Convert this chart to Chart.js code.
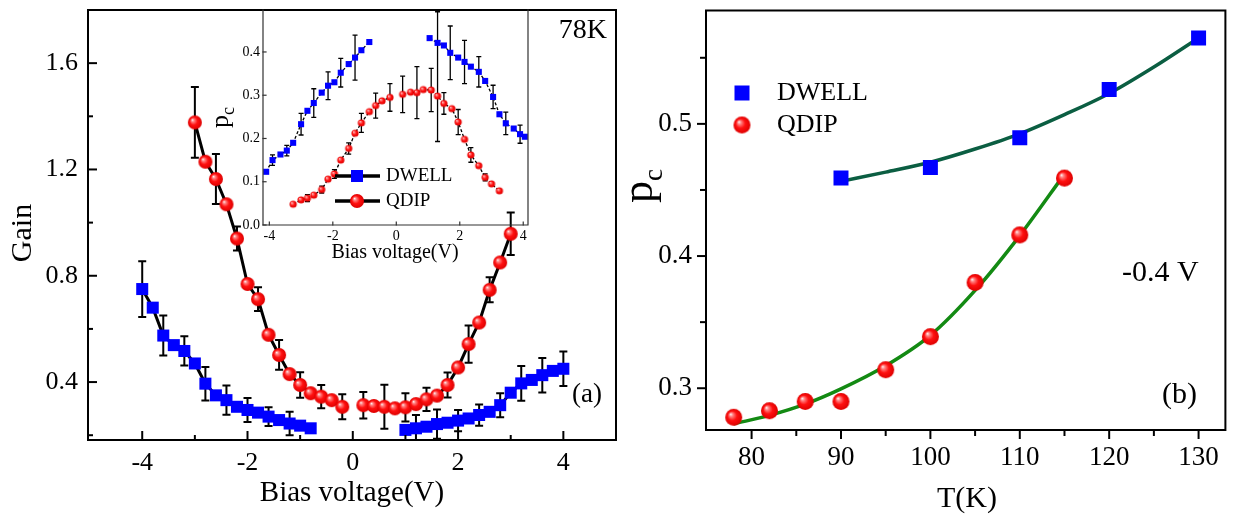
<!DOCTYPE html>
<html>
<head>
<meta charset="utf-8">
<title>DWELL vs QDIP: gain and p_c</title>
<script src="https://cdn.jsdelivr.net/npm/chart.js@4"></script>
<style>
  body { margin: 0; background: #fff; font-family: "Liberation Serif", serif; }
  #wrap { position: relative; width: 1236px; height: 514px; overflow: hidden; }
  #wrap canvas { position: absolute; top: 0; }
</style>
</head>
<body>
<div id="wrap">
  <canvas id="gainChart" width="630" height="514" style="left:0"></canvas>
  <canvas id="pcChart" width="606" height="514" style="left:630px"></canvas>
  <canvas id="insetChart" width="340" height="270" style="left:200px"></canvas>
</div>
<script>
// ---- (a) gain vs bias voltage, 78K ----
const dwellBias = [-4.0, -3.8, -3.6, -3.4, -3.2, -3.0, -2.8, -2.6, -2.4, -2.2, -2.0, -1.8, -1.6, -1.4, -1.2, -1.0, -0.8,
  1.0, 1.2, 1.4, 1.6, 1.8, 2.0, 2.2, 2.4, 2.6, 2.8, 3.0, 3.2, 3.4, 3.6, 3.8, 4.0];
const dwellGain = [0.75, 0.68, 0.575, 0.539, 0.517, 0.47, 0.394, 0.35, 0.332, 0.307, 0.295, 0.285, 0.27, 0.257, 0.244, 0.236, 0.226,
  0.22, 0.226, 0.232, 0.242, 0.247, 0.255, 0.263, 0.276, 0.288, 0.313, 0.36, 0.395, 0.408, 0.426, 0.442, 0.45];
const dwellGainErr = [0.105, 0, 0.075, 0, 0.055, 0, 0.063, 0, 0.055, 0, 0.045, 0, 0.035, 0, 0.044, 0, 0,
  0, 0.05, 0, 0.055, 0, 0.04, 0, 0.04, 0, 0.045, 0, 0.065, 0, 0.065, 0, 0.065];

const qdipBias = [-3.0, -2.8, -2.6, -2.4, -2.2, -2.0, -1.8, -1.6, -1.4, -1.2, -1.0, -0.8, -0.6, -0.4, -0.2,
  0.2, 0.4, 0.6, 0.8, 1.0, 1.2, 1.4, 1.6, 1.8, 2.0, 2.2, 2.4, 2.6, 2.8, 3.0];
const qdipGain = [1.377, 1.229, 1.164, 1.069, 0.94, 0.769, 0.712, 0.578, 0.502, 0.43, 0.389, 0.358, 0.345, 0.332, 0.307,
  0.313, 0.31, 0.307, 0.301, 0.305, 0.317, 0.335, 0.349, 0.389, 0.455, 0.543, 0.624, 0.747, 0.85, 0.958];
const qdipGainErr = [0.133, 0, 0.094, 0, 0.045, 0, 0.045, 0, 0.056, 0, 0.048, 0, 0.044, 0, 0.047,
  0.05, 0, 0.083, 0, 0.053, 0, 0.044, 0, 0.047, 0, 0.07, 0, 0.047, 0, 0.08];

const biasTicks = [-4, -2, 0, 2, 4];
const biasMinor = [-3, -1, 1, 3];
const gainTicks = [0.4, 0.8, 1.2, 1.6];
const gainMinor = [0.2, 0.6, 1.0, 1.4];

// ---- inset: p_c vs bias voltage ----
const insetDwellBias = [-4.1, -3.9, -3.65, -3.45, -3.25, -3.0, -2.8, -2.6, -2.35, -2.15, -1.95, -1.75, -1.5, -1.3, -1.1, -0.85,
  1.05, 1.3, 1.5, 1.7, 1.95, 2.15, 2.35, 2.6, 2.8, 3.05, 3.25, 3.45, 3.7, 3.9, 4.05];
const insetDwellPc = [0.123, 0.15, 0.163, 0.172, 0.19, 0.233, 0.264, 0.282, 0.306, 0.322, 0.33, 0.352, 0.372, 0.387, 0.404, 0.423,
  0.432, 0.421, 0.415, 0.398, 0.387, 0.377, 0.366, 0.354, 0.333, 0.296, 0.256, 0.235, 0.223, 0.21, 0.204];
const insetDwellErr = [0, 0.012, 0, 0.012, 0, 0.025, 0, 0.033, 0, 0.032, 0, 0.033, 0, 0.052, 0, 0,
  0, [0.228, 0.072], 0, 0.062, 0, 0.05, 0, 0.035, 0, 0.027, 0, 0.026, 0, 0.021, 0];

const insetQdipBias = [-3.25, -3.0, -2.8, -2.6, -2.35, -2.15, -1.95, -1.75, -1.5, -1.3, -1.1, -0.85, -0.65, -0.45, -0.2,
  0.2, 0.45, 0.65, 0.85, 1.1, 1.3, 1.5, 1.75, 1.95, 2.15, 2.35, 2.6, 2.8, 3.0, 3.25];
const insetQdipPc = [0.048, 0.058, 0.062, 0.069, 0.082, 0.106, 0.118, 0.15, 0.177, 0.212, 0.236, 0.262, 0.276, 0.287, 0.295,
  0.302, 0.307, 0.306, 0.313, 0.312, 0.298, 0.281, 0.269, 0.238, 0.198, 0.162, 0.137, 0.11, 0.095, 0.079];
const insetQdipErr = [0, 0, 0.008, 0, 0.008, 0, 0.01, 0, 0.013, 0, 0.022, 0, 0.029, 0, 0.032,
  0.042, 0, 0.06, 0, 0.05, 0, 0.025, 0, 0.029, 0, 0.017, 0, 0.008, 0, 0];

const insetBiasTicks = [-4, -2, 0, 2, 4];
const insetPcTicks = [0, 0.1, 0.2, 0.3, 0.4];

// ---- (b) p_c vs temperature at -0.4 V ----
const tempDwell = [90, 100, 110, 120, 130];
const pcDwell = [0.459, 0.467, 0.4895, 0.526, 0.565];
const tempQdip = [78, 82, 86, 90, 95, 100, 105, 110, 115];
const pcQdip = [0.278, 0.283, 0.29, 0.29, 0.314, 0.339, 0.38, 0.416, 0.459];

// fitted curves
const fitDwellT = [90, 95, 100, 105, 110, 115, 120, 125, 130];
const fitDwellPc = [0.4565, 0.4635, 0.471, 0.481, 0.4925, 0.507, 0.523, 0.543, 0.565];
const fitQdipT = [78, 82, 86, 90, 95, 100, 105, 110, 115];
const fitQdipPc = [0.273, 0.2795, 0.288, 0.2995, 0.317, 0.34, 0.374, 0.4155, 0.462];

const tempTicks = [80, 90, 100, 110, 120, 130];
const tempMinor = [85, 95, 105, 115, 125];
const pcTicks = [0.3, 0.4, 0.5];
const pcMinor = [0.35, 0.45, 0.55];

const SERIF = '"Liberation Serif", serif';
const BLUE = '#0000ff';
Chart.defaults.font.family = SERIF;
Chart.defaults.color = '#000';
Chart.defaults.animation = false;
Chart.defaults.plugins.legend.display = false;
Chart.defaults.plugins.tooltip.enabled = false;

// shaded red ball used as point marker
function sphere(r) {
  const c = document.createElement('canvas');
  const s = Math.ceil(2 * r) + 2;
  c.width = c.height = s;
  const g = c.getContext('2d');
  const m = s / 2;
  const grad = g.createRadialGradient(m - 0.38 * r, m - 0.38 * r, 0, m, m, r);
  grad.addColorStop(0, '#ffffff');
  grad.addColorStop(0.22, '#ff8080');
  grad.addColorStop(0.55, '#ff1010');
  grad.addColorStop(1, '#dd0000');
  g.fillStyle = grad;
  g.beginPath();
  g.arc(m, m, r, 0, Math.PI * 2);
  g.fill();
  return c;
}

const pts = (xs, ys) => xs.map((v, i) => ({ x: v, y: ys[i] }));
// hide the connecting segment across a break in the bias sweep
const gapAt = step => ctx => (ctx.p1.parsed.x - ctx.p0.parsed.x > step ? 'transparent' : undefined);

function axis(min, max, ticks, opts) {
  return {
    type: 'linear', min, max,
    afterBuildTicks: s => { s.ticks = ticks.map(v => ({ value: v })); },
    afterFit: s => {
      if (opts.height) s.height = opts.height;
      if (opts.width) s.width = opts.width;
      // plot box is placed by layout padding only
      s.paddingTop = s.paddingBottom = s.paddingLeft = s.paddingRight = 0;
    },
    grid: { display: false, drawTicks: false },
    border: { display: false },
    ticks: {
      font: { size: opts.size, family: SERIF }, color: '#000', padding: opts.pad,
      autoSkip: false, maxRotation: 0,
      callback: opts.fmt || (v => String(v))
    }
  };
}

const errorBars = {
  id: 'errorBars',
  beforeDatasetsDraw(chart, args, o) {
    const { ctx, chartArea: a } = chart;
    ctx.save();
    ctx.beginPath();
    ctx.rect(a.left, a.top, a.width, a.height);
    ctx.clip();
    ctx.strokeStyle = '#000';
    ctx.lineWidth = o.width;
    chart.data.datasets.forEach((ds, i) => {
      if (!ds.errors) return;
      const meta = chart.getDatasetMeta(i);
      const ys = chart.scales[meta.yAxisID];
      meta.data.forEach((pt, j) => {
        const e = ds.errors[j];
        if (!e) return;
        const [lo, hi] = Array.isArray(e) ? e : [e, e];
        const v = ds.data[j].y;
        const top = ys.getPixelForValue(v + hi);
        const bot = ys.getPixelForValue(v - lo);
        ctx.beginPath();
        ctx.moveTo(pt.x, top); ctx.lineTo(pt.x, bot);
        ctx.moveTo(pt.x - o.cap, top); ctx.lineTo(pt.x + o.cap, top);
        ctx.moveTo(pt.x - o.cap, bot); ctx.lineTo(pt.x + o.cap, bot);
        ctx.stroke();
      });
    });
    ctx.restore();
  }
};

// box around the plot plus major/minor tick marks
const frame = {
  id: 'frame',
  afterDatasetsDraw(chart, args, o) {
    const { ctx, chartArea: a, scales: { x, y } } = chart;
    ctx.save();
    ctx.strokeStyle = o.color;
    ctx.lineWidth = o.width;
    ctx.lineCap = 'square';
    const dir = o.inward ? -1 : 1;
    const xMark = (list, len) => list.forEach(v => {
      const px = x.getPixelForValue(v);
      ctx.beginPath(); ctx.moveTo(px, a.bottom); ctx.lineTo(px, a.bottom + dir * len); ctx.stroke();
    });
    const yMark = (list, len) => list.forEach(v => {
      const py = y.getPixelForValue(v);
      ctx.beginPath(); ctx.moveTo(a.left, py); ctx.lineTo(a.left - dir * len, py); ctx.stroke();
    });
    xMark(o.xMajor || [], o.major);
    xMark(o.xMinor || [], o.minor);
    yMark(o.yMajor || [], o.major);
    yMark(o.yMinor || [], o.minor);
    ctx.beginPath();
    const sides = o.sides;
    if (sides.includes('left')) { ctx.moveTo(a.left, a.top); ctx.lineTo(a.left, a.bottom); }
    if (sides.includes('bottom')) { ctx.moveTo(a.left, a.bottom); ctx.lineTo(a.right, a.bottom); }
    if (sides.includes('top')) { ctx.moveTo(a.left, a.top); ctx.lineTo(a.right, a.top); }
    if (sides.includes('right')) { ctx.moveTo(a.right, a.top); ctx.lineTo(a.right, a.bottom); }
    ctx.stroke();
    ctx.restore();
  }
};

// axis titles, labels and hand-placed legends
const notes = {
  id: 'notes',
  afterDraw(chart, args, o) {
    const ctx = chart.ctx;
    ctx.save();
    ctx.fillStyle = '#000';
    (o.items || []).forEach(t => {
      ctx.save();
      ctx.translate(t.x, t.y);
      if (t.rotate) ctx.rotate(t.rotate);
      ctx.font = `${t.size}px ${SERIF}`;
      if (t.sub) {
        // main letter + lowered subscript, anchored at the baseline
        ctx.textAlign = 'left';
        ctx.textBaseline = 'alphabetic';
        ctx.fillText(t.text, 0, 0);
        const w = ctx.measureText(t.text).width;
        ctx.font = `${t.subSize}px ${SERIF}`;
        ctx.fillText(t.sub, w, t.drop);
      } else {
        ctx.textAlign = t.align || 'center';
        ctx.textBaseline = 'middle';
        ctx.fillText(t.text, 0, 0);
      }
      ctx.restore();
    });
    (o.keys || []).forEach(k => {
      if (k.line) {
        ctx.strokeStyle = '#000';
        ctx.lineWidth = k.lineWidth;
        ctx.beginPath(); ctx.moveTo(k.line[0], k.y); ctx.lineTo(k.line[1], k.y); ctx.stroke();
      }
      if (k.kind === 'square') {
        ctx.fillStyle = BLUE;
        ctx.fillRect(k.x - k.size / 2, k.y - k.size / 2, k.size, k.size);
      } else {
        const img = sphere(k.size / 2);
        ctx.drawImage(img, k.x - img.width / 2, k.y - img.height / 2);
      }
      ctx.fillStyle = '#000';
      ctx.font = `${k.font}px ${SERIF}`;
      ctx.textAlign = 'left';
      ctx.textBaseline = 'middle';
      ctx.fillText(k.label, k.tx, k.y);
    });
    ctx.restore();
  }
};

function drawCharts() {
  // ---- panel (a) ----
  new Chart(document.getElementById('gainChart'), {
    type: 'line',
    data: {
      datasets: [
        {
          label: 'QDIP',
          data: pts(qdipBias, qdipGain),
          errors: qdipGainErr,
          borderColor: '#000', borderWidth: 3,
          pointStyle: sphere(7), pointRadius: 7,
          segment: { borderColor: gapAt(0.3) }
        },
        {
          label: 'DWELL',
          data: pts(dwellBias, dwellGain),
          errors: dwellGainErr,
          borderColor: '#000', borderWidth: 3,
          pointStyle: 'rect', pointRadius: 8.5,
          pointBackgroundColor: BLUE, pointBorderColor: BLUE, pointBorderWidth: 0,
          segment: { borderColor: gapAt(0.5) }
        }
      ]
    },
    options: {
      responsive: false,
      layout: { padding: { top: 10, right: 14, left: 0, bottom: 0 } },
      scales: {
        x: axis(-5.03, 5.0, biasTicks, { size: 26, pad: 8, height: 74 }),
        y: axis(0.182, 1.8, gainTicks, { size: 26, pad: 10, width: 88, fmt: v => v.toFixed(1) })
      },
      plugins: {
        errorBars: { width: 2, cap: 4 },
        frame: {
          color: '#000', width: 2, inward: true, major: 8, minor: 4,
          xMajor: biasTicks, xMinor: biasMinor, yMajor: gainTicks, yMinor: gainMinor,
          sides: ['left', 'bottom', 'top', 'right']
        },
        notes: {
          items: [
            { text: 'Gain', x: 23, y: 233, size: 30, rotate: -Math.PI / 2 },
            { text: 'Bias voltage(V)', x: 352, y: 493, size: 29 },
            { text: '78K', x: 607, y: 31, size: 28, align: 'right' },
            { text: '(a)', x: 572, y: 395, size: 27, align: 'left' }
          ]
        }
      }
    },
    plugins: [errorBars, frame, notes]
  });

  // ---- inset ----
  new Chart(document.getElementById('insetChart'), {
    type: 'line',
    data: {
      datasets: [
        {
          label: 'DWELL',
          data: pts(insetDwellBias, insetDwellPc),
          errors: insetDwellErr,
          borderColor: '#000', borderWidth: 1.3, borderDash: [3, 2],
          pointStyle: 'rect', pointRadius: 4.3,
          pointBackgroundColor: BLUE, pointBorderColor: BLUE, pointBorderWidth: 0,
          segment: { borderColor: gapAt(0.5) }
        },
        {
          label: 'QDIP',
          data: pts(insetQdipBias, insetQdipPc),
          errors: insetQdipErr,
          borderColor: '#000', borderWidth: 1.3, borderDash: [3, 2],
          pointStyle: sphere(3.6), pointRadius: 3.6,
          segment: { borderColor: gapAt(0.3) }
        }
      ]
    },
    options: {
      responsive: false,
      layout: { padding: { top: 10, right: 12, left: 0, bottom: 0 } },
      scales: {
        x: axis(-4.2, 4.15, insetBiasTicks, { size: 14, pad: 3, height: 45 }),
        y: axis(0, 0.497, insetPcTicks, { size: 14, pad: 3, width: 63, fmt: v => v.toFixed(1) })
      },
      plugins: {
        errorBars: { width: 1.3, cap: 2.5 },
        frame: {
          color: '#333', width: 1.2, inward: true, major: 3, minor: 2,
          xMajor: insetBiasTicks, yMajor: insetPcTicks,
          sides: ['left', 'bottom', 'right']
        },
        notes: {
          items: [
            { text: 'p', sub: 'c', x: 28, y: 128, size: 26, subSize: 18, drop: 6, rotate: -Math.PI / 2 },
            { text: 'Bias voltage(V)', x: 195, y: 253, size: 20 }
          ],
          keys: [
            { kind: 'square', x: 157, y: 176, size: 12, line: [135, 180], lineWidth: 3.5, label: 'DWELL', tx: 186, font: 19 },
            { kind: 'ball', x: 157, y: 201, size: 14, line: [135, 180], lineWidth: 3.5, label: 'QDIP', tx: 186, font: 19 }
          ]
        }
      }
    },
    plugins: [errorBars, frame, notes]
  });

  // ---- panel (b) ----
  new Chart(document.getElementById('pcChart'), {
    type: 'line',
    data: {
      datasets: [
        {
          label: 'DWELL',
          data: pts(tempDwell, pcDwell),
          showLine: false,
          pointStyle: 'rect', pointRadius: 10.6,
          pointBackgroundColor: BLUE, pointBorderColor: BLUE, pointBorderWidth: 0
        },
        {
          label: 'QDIP',
          data: pts(tempQdip, pcQdip),
          showLine: false,
          pointStyle: sphere(8.5), pointRadius: 8.5
        },
        {
          label: 'DWELL fit',
          data: pts(fitDwellT, fitDwellPc),
          borderColor: '#0b5e42', borderWidth: 3.5,
          pointRadius: 0, cubicInterpolationMode: 'monotone'
        },
        {
          label: 'QDIP fit',
          data: pts(fitQdipT, fitQdipPc),
          borderColor: '#138a13', borderWidth: 3.5,
          pointRadius: 0, cubicInterpolationMode: 'monotone'
        }
      ]
    },
    options: {
      responsive: false,
      layout: { padding: { top: 8, right: 9, left: 0, bottom: 0 } },
      scales: {
        x: axis(74.9, 133, tempTicks, { size: 27, pad: 12, height: 84 }),
        y: axis(0.2684, 0.5857, pcTicks, { size: 27, pad: 14, width: 76, fmt: v => v.toFixed(1) })
      },
      plugins: {
        frame: {
          color: '#000', width: 2, inward: false, major: 8, minor: 5,
          xMajor: tempTicks, xMinor: tempMinor, yMajor: pcTicks, yMinor: pcMinor,
          sides: ['left', 'bottom', 'top', 'right']
        },
        notes: {
          items: [
            { text: 'p', sub: 'c', x: 22, y: 203, size: 44, subSize: 27, drop: 10, rotate: -Math.PI / 2 },
            { text: 'T(K)', x: 337, y: 499, size: 30 },
            { text: '-0.4 V', x: 492, y: 273, size: 30, align: 'left' },
            { text: '(b)', x: 532, y: 395, size: 30, align: 'left' }
          ],
          keys: [
            { kind: 'square', x: 112, y: 93, size: 15, label: 'DWELL', tx: 147, font: 26 },
            { kind: 'ball', x: 112, y: 125, size: 17, label: 'QDIP', tx: 147, font: 26 }
          ]
        }
      }
    },
    plugins: [frame, notes]
  });
}

// make sure the serif face is ready before any text is drawn
document.fonts.load('26px "Liberation Serif"').then(drawCharts, drawCharts);
</script>
</body>
</html>
